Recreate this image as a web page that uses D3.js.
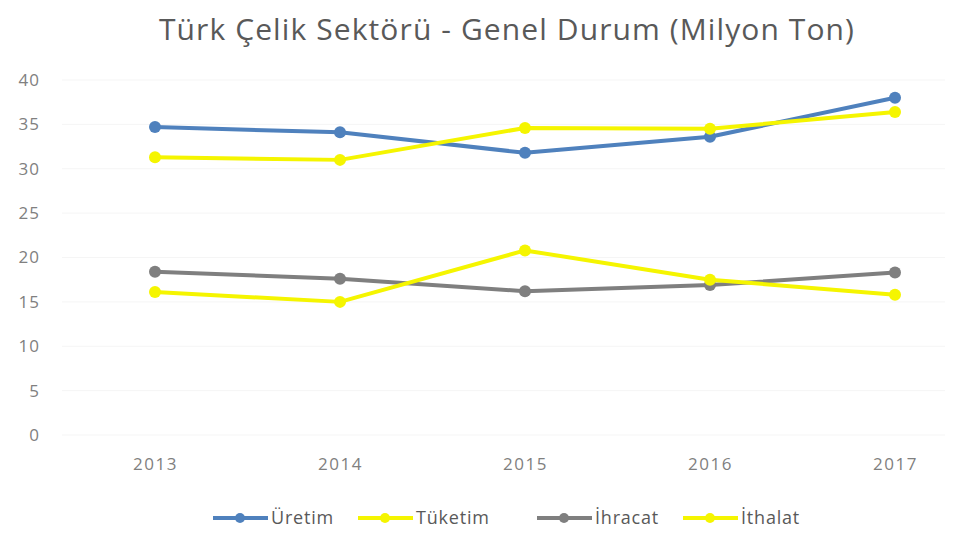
<!DOCTYPE html>
<html>
<head>
<meta charset="utf-8">
<script src="https://cdn.jsdelivr.net/npm/d3@7"></script>
<style>
  body { margin: 0; background: #fff; }
  svg { font-family: "Open Sans", "Noto Sans", sans-serif; }
</style>
</head>
<body>
<div id="chart"></div>
<script>
const years = ['2013', '2014', '2015', '2016', '2017'];
const uretim = [34.7, 34.1, 31.8, 33.6, 38.0];
const tuketim = [31.3, 31.0, 34.6, 34.5, 36.4];
const ihracat = [18.4, 17.6, 16.2, 16.9, 18.3];
const ithalat = [16.1, 15.0, 20.8, 17.5, 15.8];
const yTicks = [0, 5, 10, 15, 20, 25, 30, 35, 40];

const series = [
    { name: 'Üretim', values: uretim, color: '#4f81bd' },
    { name: 'Tüketim', values: tuketim, color: '#f5f500' },
    { name: 'İhracat', values: ihracat, color: '#7f7f7f' },
    { name: 'İthalat', values: ithalat, color: '#f5f500' }
];

let width = 962;
let height = 533;

let x = d3.scalePoint()
    .domain(years)
    .range([155, 895]);

let y = d3.scaleLinear()
    .domain([0, 40])
    .range([435, 80]);

let svg = d3.select('#chart').append('svg')
    .attr('width', width)
    .attr('height', height);

// title
svg.append('text')
    .attr('x', 507)
    .attr('y', 40)
    .attr('text-anchor', 'middle')
    .attr('font-size', 30)
    .attr('letter-spacing', 1.1)
    .attr('fill', '#595959')
    .text('Türk Çelik Sektörü - Genel Durum (Milyon Ton)');

// faint gridlines
svg.append('g')
    .selectAll('line').data(yTicks).enter().append('line')
    .attr('x1', 62).attr('x2', 945)
    .attr('y1', d => y(d)).attr('y2', d => y(d))
    .attr('stroke', '#f5f5f5')
    .attr('stroke-width', 1);

let yAxis = svg.append('g')
    .attr('transform', 'translate(40, 0)')
    .call(d3.axisLeft(y).tickValues(yTicks).tickSize(0).tickPadding(0));
yAxis.select('.domain').remove();
yAxis.selectAll('text')
    .attr('font-size', 17)
    .attr('letter-spacing', 1)
    .attr('font-family', 'Open Sans, sans-serif')
    .attr('fill', '#808080');

let xAxis = svg.append('g')
    .attr('transform', 'translate(0, 458)')
    .call(d3.axisBottom(x).tickSize(0).tickPadding(0));
xAxis.select('.domain').remove();
xAxis.selectAll('text')
    .attr('font-size', 17)
    .attr('letter-spacing', 1.5)
    .attr('font-family', 'Open Sans, sans-serif')
    .attr('fill', '#808080');

let line = d3.line()
    .x((d, i) => x(years[i]))
    .y(d => y(d));

let groups = svg.selectAll('.series').data(series).enter().append('g')
    .attr('class', 'series');

groups.append('path')
    .attr('d', s => line(s.values))
    .attr('fill', 'none')
    .attr('stroke', s => s.color)
    .attr('stroke-width', 4)
    .attr('stroke-linejoin', 'round');

groups.selectAll('circle').data(s => s.values.map(v => ({ v: v, color: s.color }))).enter().append('circle')
    .attr('cx', (d, i) => x(years[i]))
    .attr('cy', d => y(d.v))
    .attr('r', 6)
    .attr('fill', d => d.color);

// legend
let legendX = [213, 358, 537, 683];
let legend = svg.selectAll('.legend').data(series).enter().append('g')
    .attr('class', 'legend')
    .attr('transform', (s, i) => 'translate(' + legendX[i] + ', 518)');

legend.append('line')
    .attr('x1', 0).attr('x2', 55)
    .attr('stroke', s => s.color)
    .attr('stroke-width', 4);

legend.append('circle')
    .attr('cx', 27)
    .attr('r', 5)
    .attr('fill', s => s.color);

legend.append('text')
    .attr('x', 58)
    .attr('y', 6)
    .attr('font-size', 18)
    .attr('letter-spacing', 0.8)
    .attr('fill', '#595959')
    .text(s => s.name);
</script>
</body>
</html>
